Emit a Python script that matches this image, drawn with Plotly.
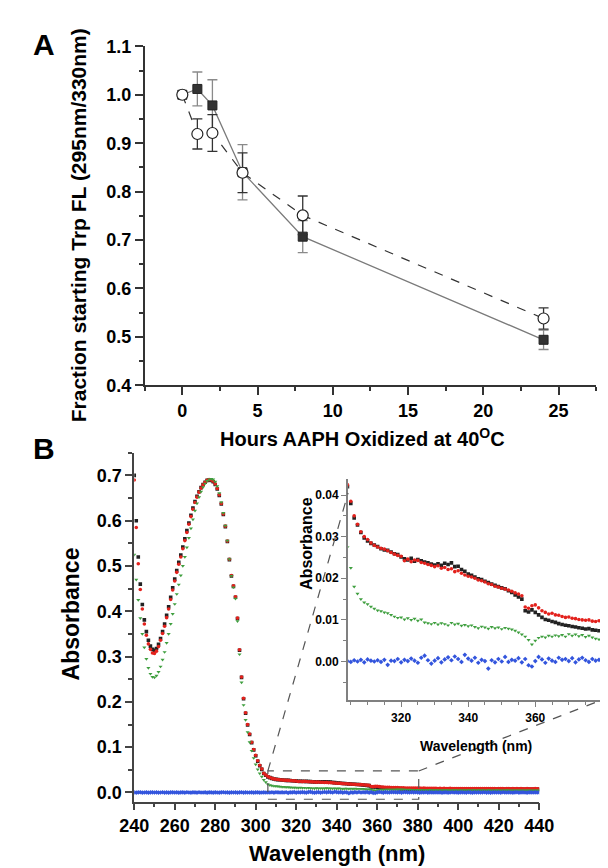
import plotly.graph_objects as go

W, H = 608, 868

# ---------------- Panel A data ----------------
hours = [0, 1, 2, 4, 8, 24]
sq_vals = [1.000, 1.012, 0.978, 0.840, 0.707, 0.494]
sq_err = [0.000, 0.035, 0.053, 0.057, 0.033, 0.020]
ci_vals = [1.000, 0.919, 0.921, 0.839, 0.751, 0.538]
ci_err = [0.000, 0.031, 0.038, 0.041, 0.040, 0.022]

# ---------------- Panel B data (absorbance spectra, 1 nm steps) ----------------
wavelength = list(range(240, 441))

abs_black = [
    0.700, 0.600, 0.520, 0.460, 0.415, 0.381, 0.355, 0.336, 0.323, 0.316,  # 240
    0.314, 0.318, 0.327, 0.340, 0.355, 0.372, 0.391, 0.410, 0.431, 0.452,  # 250
    0.471, 0.490, 0.508, 0.524, 0.542, 0.560, 0.578, 0.595, 0.612, 0.628,  # 260
    0.642, 0.654, 0.664, 0.673, 0.680, 0.685, 0.689, 0.690, 0.689, 0.686,  # 270
    0.680, 0.670, 0.656, 0.637, 0.614, 0.587, 0.554, 0.514, 0.478, 0.455,  # 280
    0.431, 0.384, 0.314, 0.254, 0.207, 0.175, 0.149, 0.128, 0.110, 0.094,  # 290
    0.081, 0.069, 0.059, 0.051, 0.0420, 0.0380, 0.0345, 0.0328, 0.0310, 0.0297,  # 300
    0.0290, 0.0284, 0.0280, 0.0276, 0.0271, 0.0268, 0.0267, 0.0263, 0.0259, 0.0257,  # 310
    0.0251, 0.0247, 0.0244, 0.0248, 0.0241, 0.0245, 0.0242, 0.0239, 0.0237, 0.0234,  # 320
    0.0232, 0.0235, 0.0231, 0.0236, 0.0233, 0.0237, 0.0228, 0.0229, 0.0221, 0.0217,  # 330
    0.0210, 0.0207, 0.0203, 0.0199, 0.0197, 0.0193, 0.0190, 0.0186, 0.0183, 0.0180,  # 340
    0.0177, 0.0175, 0.0170, 0.0166, 0.0160, 0.0155, 0.0150, 0.0122, 0.0119, 0.0124,  # 350
    0.0118, 0.0112, 0.0106, 0.0101, 0.0099, 0.0096, 0.0094, 0.0091, 0.0089, 0.0087,  # 360
    0.0086, 0.0084, 0.0083, 0.0081, 0.0080, 0.0078, 0.0079, 0.0076, 0.0075, 0.0074,  # 370
    0.0075, 0.0074, 0.0076, 0.0072, 0.0075, 0.0073, 0.0071, 0.0074, 0.0072, 0.0075,  # 380
    0.0071, 0.0073, 0.0070, 0.0072, 0.0074, 0.0071, 0.0073, 0.0070, 0.0072, 0.0069,  # 390
    0.0071, 0.0073, 0.0070, 0.0072, 0.0069, 0.0071, 0.0070, 0.0072, 0.0068, 0.0070,  # 400
    0.0071, 0.0069, 0.0071, 0.0068, 0.0070, 0.0072, 0.0069, 0.0070, 0.0068, 0.0071,  # 410
    0.0069, 0.0070, 0.0068, 0.0070, 0.0067, 0.0069, 0.0071, 0.0068, 0.0069, 0.0067,  # 420
    0.0070, 0.0068, 0.0069, 0.0067, 0.0070, 0.0068, 0.0066, 0.0069, 0.0067, 0.0068,  # 430
    0.0066,  # 440
]

abs_red = [
    0.690, 0.585, 0.505, 0.448, 0.405, 0.372, 0.347, 0.328, 0.316, 0.308,  # 240
    0.307, 0.312, 0.322, 0.336, 0.351, 0.367, 0.386, 0.405, 0.426, 0.447,  # 250
    0.467, 0.486, 0.504, 0.520, 0.538, 0.556, 0.574, 0.592, 0.609, 0.625,  # 260
    0.640, 0.652, 0.663, 0.672, 0.679, 0.685, 0.689, 0.691, 0.690, 0.687,  # 270
    0.681, 0.671, 0.657, 0.638, 0.615, 0.588, 0.555, 0.515, 0.479, 0.456,  # 280
    0.432, 0.385, 0.315, 0.255, 0.208, 0.176, 0.150, 0.129, 0.111, 0.095,  # 290
    0.082, 0.070, 0.060, 0.052, 0.0425, 0.0385, 0.0350, 0.0330, 0.0312, 0.0300,  # 300
    0.0293, 0.0285, 0.0279, 0.0275, 0.0272, 0.0270, 0.0266, 0.0262, 0.0258, 0.0255,  # 310
    0.0253, 0.0242, 0.0246, 0.0240, 0.0244, 0.0243, 0.0238, 0.0236, 0.0233, 0.0231,  # 320
    0.0228, 0.0230, 0.0224, 0.0226, 0.0221, 0.0223, 0.0216, 0.0218, 0.0212, 0.0208,  # 330
    0.0205, 0.0203, 0.0200, 0.0196, 0.0194, 0.0191, 0.0187, 0.0185, 0.0181, 0.0179,  # 340
    0.0176, 0.0174, 0.0172, 0.0169, 0.0165, 0.0162, 0.0158, 0.0131, 0.0128, 0.0134,  # 350
    0.0136, 0.0129, 0.0122, 0.0118, 0.0114, 0.0116, 0.0112, 0.0111, 0.0108, 0.0106,  # 360
    0.0107, 0.0104, 0.0103, 0.0101, 0.0100, 0.0099, 0.0100, 0.0097, 0.0096, 0.0098,  # 370
    0.0095, 0.0095, 0.0093, 0.0096, 0.0092, 0.0094, 0.0091, 0.0093, 0.0090, 0.0092,  # 380
    0.0089, 0.0091, 0.0088, 0.0090, 0.0089, 0.0087, 0.0090, 0.0088, 0.0086, 0.0089,  # 390
    0.0087, 0.0088, 0.0086, 0.0089, 0.0087, 0.0085, 0.0088, 0.0086, 0.0087, 0.0085,  # 400
    0.0088, 0.0086, 0.0084, 0.0087, 0.0085, 0.0086, 0.0084, 0.0087, 0.0085, 0.0083,  # 410
    0.0086, 0.0084, 0.0085, 0.0083, 0.0086, 0.0084, 0.0082, 0.0085, 0.0083, 0.0084,  # 420
    0.0082, 0.0085, 0.0083, 0.0081, 0.0084, 0.0082, 0.0083, 0.0081, 0.0084, 0.0082,  # 430
    0.0083,  # 440
]

abs_green = [
    0.525, 0.470, 0.425, 0.385, 0.350, 0.320, 0.295, 0.275, 0.262, 0.255,  # 240
    0.254, 0.258, 0.266, 0.278, 0.293, 0.310, 0.330, 0.350, 0.372, 0.394,  # 250
    0.416, 0.438, 0.459, 0.479, 0.500, 0.520, 0.541, 0.562, 0.583, 0.603,  # 260
    0.622, 0.638, 0.652, 0.664, 0.674, 0.682, 0.688, 0.691, 0.692, 0.691,  # 270
    0.686, 0.676, 0.661, 0.641, 0.617, 0.589, 0.556, 0.515, 0.478, 0.453,  # 280
    0.428, 0.378, 0.305, 0.243, 0.193, 0.160, 0.133, 0.111, 0.092, 0.076,  # 290
    0.062, 0.051, 0.042, 0.035, 0.0275, 0.0225, 0.0180, 0.0163, 0.0150, 0.0142,  # 300
    0.0138, 0.0132, 0.0127, 0.0123, 0.0121, 0.0118, 0.0116, 0.0112, 0.0108, 0.0105,  # 310
    0.0106, 0.0101, 0.0104, 0.0100, 0.0103, 0.0098, 0.0101, 0.0094, 0.0092, 0.0090,  # 320
    0.0093, 0.0089, 0.0092, 0.0090, 0.0087, 0.0093, 0.0089, 0.0091, 0.0086, 0.0088,  # 330
    0.0085, 0.0087, 0.0083, 0.0080, 0.0084, 0.0082, 0.0079, 0.0083, 0.0080, 0.0082,  # 340
    0.0078, 0.0081, 0.0079, 0.0077, 0.0074, 0.0070, 0.0065, 0.0060, 0.0052, 0.0041,  # 350
    0.0050, 0.0057, 0.0060, 0.0058, 0.0062, 0.0060, 0.0063, 0.0061, 0.0064, 0.0060,  # 360
    0.0066, 0.0062, 0.0065, 0.0061, 0.0064, 0.0059, 0.0062, 0.0058, 0.0055, 0.0053,  # 370
    0.0054, 0.0052, 0.0055, 0.0050, 0.0053, 0.0051, 0.0054, 0.0049, 0.0052, 0.0050,  # 380
    0.0053, 0.0048, 0.0051, 0.0049, 0.0052, 0.0050, 0.0048, 0.0051, 0.0049, 0.0052,  # 390
    0.0048, 0.0050, 0.0047, 0.0050, 0.0048, 0.0051, 0.0047, 0.0049, 0.0050, 0.0046,  # 400
    0.0049, 0.0047, 0.0050, 0.0048, 0.0046, 0.0049, 0.0047, 0.0048, 0.0046, 0.0049,  # 410
    0.0047, 0.0045, 0.0048, 0.0046, 0.0049, 0.0047, 0.0045, 0.0048, 0.0046, 0.0047,  # 420
    0.0045, 0.0048, 0.0046, 0.0044, 0.0047, 0.0045, 0.0046, 0.0044, 0.0047, 0.0045,  # 430
    0.0046,  # 440
]

abs_blue = [
    0.0002, -0.0003, 0.0001, 0.0004, -0.0002, 0.0000, 0.0003, -0.0004, 0.0001, 0.0002,  # 240
    -0.0001, 0.0003, -0.0002, 0.0000, 0.0004, -0.0003, 0.0001, -0.0005, 0.0002, 0.0003,  # 250
    -0.0001, 0.0002, -0.0004, 0.0001, 0.0003, -0.0002, 0.0005, 0.0000, -0.0003, 0.0002,  # 260
    0.0001, -0.0002, 0.0004, -0.0001, 0.0000, 0.0003, -0.0004, 0.0002, 0.0001, -0.0002,  # 270
    0.0003, 0.0000, -0.0003, 0.0002, 0.0004, -0.0001, 0.0001, -0.0004, 0.0003, 0.0000,  # 280
    0.0002, -0.0002, 0.0001, 0.0004, -0.0003, 0.0002, 0.0000, -0.0001, 0.0003, -0.0002,  # 290
    0.0001, 0.0003, -0.0002, 0.0000, 0.0001, -0.0001, 0.0003, 0.0000, 0.0004, -0.0002,  # 300
    0.0005, 0.0002, 0.0000, 0.0003, -0.0001, 0.0004, -0.0008, 0.0002, 0.0001, 0.0006,  # 310
    -0.0002, 0.0004, 0.0001, 0.0007, 0.0002, -0.0003, 0.0009, 0.0014, 0.0003, -0.0005,  # 320
    0.0002, 0.0008, -0.0002, 0.0005, 0.0010, 0.0003, 0.0012, 0.0006, -0.0001, 0.0016,  # 330
    0.0007, 0.0002, 0.0009, -0.0003, 0.0004, 0.0001, -0.0017, 0.0003, -0.0002, 0.0006,  # 340
    0.0000, 0.0011, -0.0001, 0.0004, 0.0002, 0.0008, -0.0002, 0.0006, -0.0009, -0.0012,  # 350
    0.0001, 0.0011, 0.0005, -0.0003, 0.0007, 0.0002, -0.0001, 0.0009, 0.0004, 0.0006,  # 360
    0.0001, 0.0008, -0.0002, 0.0005, 0.0009, 0.0003, -0.0001, 0.0006, 0.0002, 0.0004,  # 370
    0.0001, -0.0002, 0.0003, 0.0000, 0.0004, -0.0003, 0.0002, 0.0001, -0.0001, 0.0003,  # 380
    0.0000, 0.0002, -0.0004, 0.0001, 0.0003, -0.0002, 0.0000, 0.0004, -0.0001, 0.0002,  # 390
    -0.0003, 0.0001, 0.0003, 0.0000, -0.0002, 0.0004, 0.0001, -0.0004, 0.0002, 0.0000,  # 400
    0.0003, -0.0001, 0.0001, 0.0004, -0.0003, 0.0002, -0.0005, 0.0001, 0.0003, 0.0000,  # 410
    0.0002, -0.0002, 0.0004, 0.0001, -0.0001, 0.0003, 0.0000, -0.0003, 0.0002, 0.0004,  # 420
    -0.0002, 0.0001, 0.0003, 0.0000, -0.0004, 0.0002, 0.0001, -0.0001, 0.0003, 0.0000,  # 430
    0.0002,  # 440
]

# zoom window (main-plot box) and inset axis ranges
box_x = [306.0, 380.5]
box_y = [-0.015, 0.0475]
inset_xrange = [304.2, 379.6]
inset_yrange = [-0.0093, 0.0439]

# ---------------- layout geometry (pixels) ----------------
def pxx(p):
    return p / W

def pxy(p):
    return 1 - p / H

A_dom_x = [pxx(128), pxx(603)]
A_dom_y = [pxy(376), pxy(29)]
B_dom_x = [pxx(117), pxx(543)]
B_dom_y = [pxy(802), pxy(445)]
I_dom_x = [pxx(342), 1.0]
I_dom_y = [pxy(698.3), pxy(471.7)]

FONT = "Liberation Sans, Arial, sans-serif"

fig = go.Figure()

# Panel A traces
fig.add_trace(go.Scatter(
    x=hours, y=sq_vals, mode="lines+markers", xaxis="x", yaxis="y",
    line=dict(color="#7a7a7a", width=1.3),
    marker=dict(symbol="square", size=9, color="#333333", line=dict(color="#222222", width=1)),
    error_y=dict(type="data", array=sq_err, visible=True, color="#8a8a8a", thickness=1.3, width=5),
    showlegend=False))
fig.add_trace(go.Scatter(
    x=hours, y=ci_vals, mode="lines+markers", xaxis="x", yaxis="y",
    line=dict(color="#333333", width=1.2, dash="dash"),
    marker=dict(symbol="circle", size=11, color="white", line=dict(color="#222222", width=1.2)),
    error_y=dict(type="data", array=ci_err, visible=True, color="#333333", thickness=1.3, width=5),
    showlegend=False))

series = [
    (abs_black, "#222222", "square"),
    (abs_red, "#e3211c", "circle"),
    (abs_green, "#3f9f3f", "triangle-down"),
    (abs_blue, "#3355dd", "diamond"),
]
for ys, col, sym in series:
    fig.add_trace(go.Scatter(x=wavelength, y=ys, mode="markers", xaxis="x2", yaxis="y2",
                             marker=dict(symbol=sym, size=3.6, color=col, line=dict(width=0)),
                             showlegend=False, cliponaxis=True))
for ys, col, sym in series:
    fig.add_trace(go.Scatter(x=wavelength, y=ys, mode="markers", xaxis="x3", yaxis="y3",
                             marker=dict(symbol=sym, size=3.6, color=col, line=dict(width=0)),
                             showlegend=False, cliponaxis=True))

tickf = dict(family=FONT, size=18, color="black", weight="bold")
tickfA = dict(family=FONT, size=18, color="black", weight="bold")
tickfI = dict(family=FONT, size=12, color="black", weight="bold")

common = dict(showgrid=False, zeroline=False, showline=True, ticks="outside", mirror=False)

fig.update_layout(
    width=W, height=H, margin=dict(l=0, r=0, t=0, b=0),
    paper_bgcolor="white", plot_bgcolor="rgba(0,0,0,0)",
    xaxis=dict(domain=A_dom_x, anchor="y", range=[-2.5, 27.5], tick0=0, dtick=5,
               linecolor="#333", linewidth=1.6, tickcolor="#333", tickwidth=1.5, ticklen=8,
               tickfont=tickfA, minor=dict(dtick=2.5, ticklen=4, tickcolor="#333", tickwidth=1.5, ticks="outside"),
               **common),
    yaxis=dict(domain=A_dom_y, anchor="x", range=[0.4, 1.1], tick0=0.4, dtick=0.1, tickformat=".1f",
               linecolor="#333", linewidth=1.6, tickcolor="#333", tickwidth=1.5, ticklen=8,
               tickfont=tickfA, minor=dict(dtick=0.05, ticklen=4, tickcolor="#333", tickwidth=1.5, ticks="outside"),
               **common),
    xaxis2=dict(domain=B_dom_x, anchor="y2", range=[240, 440], tick0=240, dtick=20,
                linecolor="#444", linewidth=1.6, tickcolor="#444", tickwidth=1.5, ticklen=7,
                tickfont=tickf, minor=dict(dtick=10, ticklen=4, tickcolor="#444", tickwidth=1.5, ticks="outside"),
                **common),
    yaxis2=dict(domain=B_dom_y, anchor="x2", range=[-0.02, 0.75], tick0=0, dtick=0.1, tickformat=".1f",
                linecolor="#444", linewidth=1.6, tickcolor="#444", tickwidth=1.5, ticklen=7,
                tickfont=tickf, minor=dict(dtick=0.05, ticklen=4, tickcolor="#444", tickwidth=1.5, ticks="outside"),
                **common),
    xaxis3=dict(domain=I_dom_x, anchor="y3", range=inset_xrange, tick0=300, dtick=20,
                linecolor="#808080", linewidth=2, tickcolor="#808080", tickwidth=1.3, ticklen=5,
                tickfont=tickfI, minor=dict(dtick=5, ticklen=3, tickcolor="#808080", tickwidth=1.2, ticks="outside"),
                **common),
    yaxis3=dict(domain=I_dom_y, anchor="x3", range=inset_yrange, tick0=0, dtick=0.01, tickformat=".2f",
                linecolor="#808080", linewidth=2, tickcolor="#808080", tickwidth=1.3, ticklen=5,
                tickfont=tickfI, minor=dict(dtick=0.005, ticklen=3, tickcolor="#808080", tickwidth=1.2, ticks="outside"),
                **common),
)

def to_paper(xv, yv, xdom, xr, ydom, yr):
    px = xdom[0] + (xv - xr[0]) / (xr[1] - xr[0]) * (xdom[1] - xdom[0])
    py = ydom[0] + (yv - yr[0]) / (yr[1] - yr[0]) * (ydom[1] - ydom[0])
    return px, py

B_xr = [240, 440]
B_yr = [-0.02, 0.75]

# dashed zoom box
fig.add_shape(type="rect", xref="x2", yref="y2", x0=box_x[0], x1=box_x[1], y0=box_y[0], y1=box_y[1],
              line=dict(color="#555555", width=1.2, dash="dash"))
# connectors
p1 = to_paper(box_x[0], box_y[1], B_dom_x, B_xr, B_dom_y, B_yr)
q1 = to_paper(inset_xrange[0], 0.0405, I_dom_x, inset_xrange, I_dom_y, inset_yrange)
p2 = to_paper(box_x[1], box_y[1], B_dom_x, B_xr, B_dom_y, B_yr)
q2 = to_paper(inset_xrange[1], inset_yrange[0], I_dom_x, inset_xrange, I_dom_y, inset_yrange)
for (a, b) in [(p1, q1), (p2, q2)]:
    fig.add_shape(type="line", xref="paper", yref="paper", x0=a[0], y0=a[1], x1=b[0], y1=b[1],
                  line=dict(color="#555555", width=1.2, dash="dash"))

def ann(text, x, y, size, angle=0):
    fig.add_annotation(text=text, x=pxx(x), y=pxy(y), xref="paper", yref="paper",
                       showarrow=False, textangle=angle, xanchor="center", yanchor="middle",
                       font=dict(family=FONT, size=size, color="black", weight="bold"))

ann("A", 22, 27, 30)
ann("B", 22, 441, 30)
ann("Fraction starting Trp FL (295nm/330nm)", 58, 212, 21, angle=-90)
ann("Hours AAPH Oxidized at 40<sup>O</sup>C", 357, 429, 20)
ann("Absorbance", 50, 610, 23, angle=-90)
ann("Wavelength (nm)", 330, 855, 22)
ann("Absorbance", 298, 538, 16, angle=-90)
ann("Wavelength (nm)", 476, 745, 14)

fig.write_html("out.html")
